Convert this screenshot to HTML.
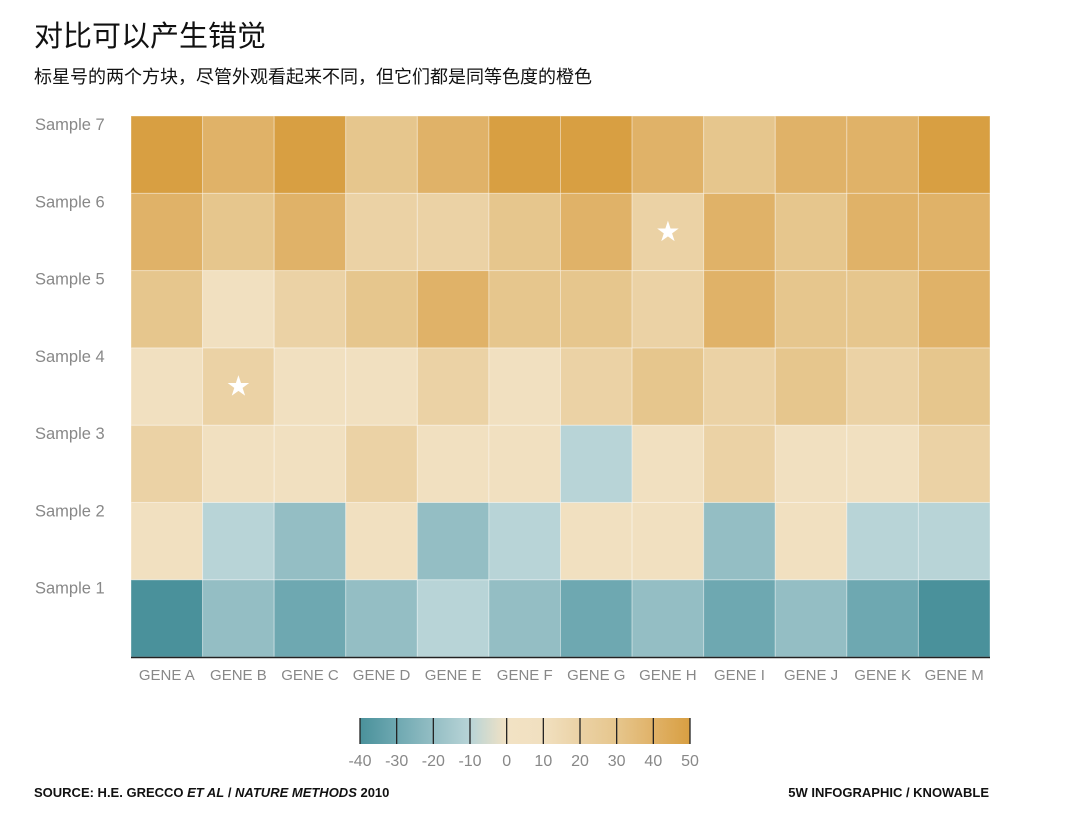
<!DOCTYPE html>
<html><head><meta charset="utf-8"><style>
body{margin:0;background:#fff;width:1070px;height:821px;overflow:hidden;font-family:"Liberation Sans","Noto Sans CJK SC",sans-serif}
.t{position:absolute;white-space:nowrap}
</style></head><body>
<div class="t" style="left:34px;top:13px;font-size:29px;color:#111">对比可以产生错觉</div>
<div class="t" style="left:34px;top:63px;font-size:18px;color:#111">标星号的两个方块，尽管外观看起来不同，但它们都是同等色度的橙色</div>
<svg id="chart" width="1070" height="821" style="position:absolute;left:0;top:0"></svg>
<div class="t" style="left:34px;top:785px;font-size:13px;font-weight:bold;color:#111">SOURCE: H.E. GRECCO <i>ET AL</i> / <i>NATURE METHODS</i> 2010</div>
<div class="t" style="right:81px;top:785px;font-size:13px;font-weight:bold;color:#111">5W INFOGRAPHIC / KNOWABLE</div>
<script>
const genes=["GENE A","GENE B","GENE C","GENE D","GENE E","GENE F","GENE G","GENE H","GENE I","GENE J","GENE K","GENE M"];
const samples=["Sample 1","Sample 2","Sample 3","Sample 4","Sample 5","Sample 6","Sample 7"];
const sample1=[-40,-20,-30,-20,-10,-20,-30,-20,-30,-20,-30,-40];
const sample2=[10,-10,-20,10,-20,-10,10,10,-20,10,-10,-10];
const sample3=[20,10,10,20,10,10,-10,10,20,10,10,20];
const sample4=[10,20,10,10,20,10,20,30,20,30,20,30];
const sample5=[30,10,20,30,40,30,30,20,40,30,30,40];
const sample6=[40,30,40,20,20,30,40,20,40,30,40,40];
const sample7=[50,40,50,30,40,50,50,40,30,40,40,50];
const values=[sample1,sample2,sample3,sample4,sample5,sample6,sample7];
const starred=[[3,1],[5,7]];
const legendTicks=[-40,-30,-20,-10,0,10,20,30,40,50];
const stops=[[-40,"#4a919b"],[-30,"#6ea8b1"],[-20,"#94bec4"],[-10,"#b8d4d7"],[0,"#f2e2c4"],[10,"#f1e0c0"],[20,"#ebd2a5"],[30,"#e6c68d"],[40,"#e0b268"],[50,"#d89f42"]];
function hex(h){return[1,3,5].map(i=>parseInt(h.substr(i,2),16))}
function color(v){v=Math.max(-40,Math.min(50,v));for(let i=0;i<stops.length-1;i++){if(v<=stops[i+1][0]){const t=(v-stops[i][0])/(stops[i+1][0]-stops[i][0]);const a=hex(stops[i][1]),b=hex(stops[i+1][1]);return"rgb("+a.map((x,k)=>Math.round(x+(b[k]-x)*t)).join(",")+")";}}return stops[stops.length-1][1];}
const NS="http://www.w3.org/2000/svg",svg=document.getElementById('chart');
function el(tag,at,txt){const e=document.createElementNS(NS,tag);for(const k in at)e.setAttribute(k,at[k]);if(txt!==undefined)e.textContent=txt;svg.appendChild(e);return e;}
const X0=131,X1=990,Y0=116,Y1=657,cw=(X1-X0)/genes.length,ch=(Y1-Y0)/samples.length;
const xs=i=>X0+i*cw, ys=r=>Y1-(r+1)*ch;
values.forEach((row,r)=>row.forEach((v,i)=>{
 const c=el('rect',{x:xs(i),y:ys(r),width:cw,height:ch,fill:color(v),stroke:'rgba(255,255,255,0.35)','stroke-width':1});
 
 
}));
starred.forEach(([r,i])=>{const s=el('text',{x:xs(i)+cw/2,y:ys(r)+ch/2+9,'text-anchor':'middle','font-size':28,fill:'#fff','font-family':'DejaVu Sans'},'★');
 
 });
const ax=el('line',{x1:X0,x2:X1,y1:Y1+0.5,y2:Y1+0.5,stroke:'#222','stroke-width':1.5});


genes.forEach((g,i)=>{const t=el('text',{x:xs(i)+cw/2,y:680,'text-anchor':'middle','font-size':15,fill:'#888'},g);
 
 });
samples.forEach((s,r)=>{const t=el('text',{x:35,y:ys(r)+14,'font-size':16.5,fill:'#888'},s);
 
 });
const LX0=360,LX1=690,LY=718,LH=26;
const lx=v=>LX0+(v-legendTicks[0])/(legendTicks[legendTicks.length-1]-legendTicks[0])*(LX1-LX0);
const defs=el('defs',{});const grad=document.createElementNS(NS,'linearGradient');grad.setAttribute('id','lg');defs.appendChild(grad);
stops.forEach(([v,c])=>{const s=document.createElementNS(NS,'stop');s.setAttribute('offset',((v+40)/90*100)+'%');s.setAttribute('stop-color',c);grad.appendChild(s);});
const lb=el('rect',{x:LX0,y:LY,width:LX1-LX0,height:LH,fill:'url(#lg)'});


legendTicks.forEach(v=>{el('line',{x1:lx(v),x2:lx(v),y1:LY,y2:LY+LH,stroke:'#222','stroke-width':1.3});
 const t=el('text',{x:lx(v),y:766,'text-anchor':'middle','font-size':16,fill:'#888'},v);
 
 });
</script>
</body></html>
